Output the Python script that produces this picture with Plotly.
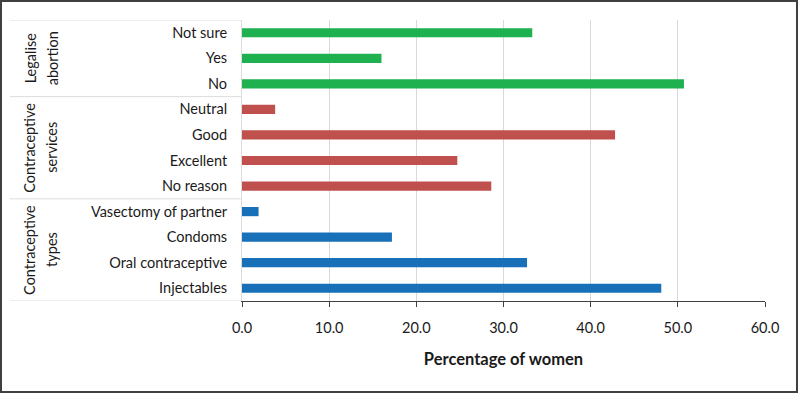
import plotly.graph_objects as go

categories = ["Not sure", "Yes", "No",
              "Neutral", "Good", "Excellent", "No reason",
              "Vasectomy of partner", "Condoms", "Oral contraceptive", "Injectables"]
values = [33.3, 16.0, 50.7,
          3.8, 42.8, 24.7, 28.6,
          1.9, 17.2, 32.7, 48.1]
group_of = [0, 0, 0, 1, 1, 1, 1, 2, 2, 2, 2]
group_lines = [["Legalise", "abortion"], ["Contraceptive", "services"], ["Contraceptive", "types"]]
group_colors = ["#1FB050", "#C0504D", "#1770B8"]
group_centers = [1, 4.5, 8.5]
group_bounds = [-0.5, 2.5, 6.5, 10.5]
x_ticks = [0, 10, 20, 30, 40, 50, 60]
x_tick_text = ["0.0", "10.0", "20.0", "30.0", "40.0", "50.0", "60.0"]

FONT = "Lato"
TXT = "#1a1a1a"
L, R, T, B = 242, 35, 20, 93
PW = 800 - L - R
PH = 394 - T - B


def px_x(p):
    return (p - L) / PW


def px_y(q):
    return (394 - B - q) / PH


fig = go.Figure()
fig.add_trace(go.Bar(
    y=list(range(len(categories))), x=values, orientation="h",
    marker=dict(color=[group_colors[g] for g in group_of], line=dict(width=0)),
    width=0.36, hoverinfo="x+y",
))

fig.update_layout(
    width=800, height=394,
    margin=dict(l=L, r=R, t=T, b=B),
    paper_bgcolor="white", plot_bgcolor="white",
    showlegend=False,
    font=dict(family=FONT, size=14.5, color=TXT),
    xaxis=dict(
        range=[0, 60], tickvals=x_ticks, ticktext=x_tick_text,
        showgrid=True, gridcolor="#d9d9d9", gridwidth=1,
        showline=True, linecolor="#404040", linewidth=1,
        ticks="outside", ticklen=5, tickcolor="#404040",
        tickfont=dict(family=FONT, size=14.5, color=TXT),
        ticklabelstandoff=9,
        zeroline=False,
        title=dict(text="<b>Percentage of women</b>", font=dict(family=FONT, size=16.5, color=TXT), standoff=18),
    ),
    yaxis=dict(
        range=[10.5, -0.5],
        tickvals=list(range(len(categories))), ticktext=categories,
        showgrid=False, zeroline=False,
        showline=True, linecolor="#dcdcdc", linewidth=1,
        ticks="", ticklabelstandoff=11,
        tickfont=dict(family=FONT, size=14.5, color=TXT),
    ),
)

for b in group_bounds:
    fig.add_shape(type="line", xref="paper", yref="y", x0=px_x(10), x1=0, y0=b, y1=b,
                  line=dict(color="#dcdcdc", width=1), layer="below")

for lines, c in zip(group_lines, group_centers):
    for line_text, xp in zip(lines, [30, 52]):
        fig.add_annotation(xref="paper", yref="y", x=px_x(xp), y=c, text=line_text, textangle=-90,
                           showarrow=False, font=dict(family=FONT, size=14.5, color=TXT),
                           xanchor="center", yanchor="middle")

# outer frame
fig.add_shape(type="rect", xref="paper", yref="paper",
              x0=px_x(1), x1=px_x(797), y0=px_y(392), y1=px_y(1),
              line=dict(color="#404040", width=2), fillcolor="rgba(0,0,0,0)")

fig.write_html("out.html", config={"displayModeBar": False},
               post_script="document.body.style.margin='0';document.body.style.padding='0';")
